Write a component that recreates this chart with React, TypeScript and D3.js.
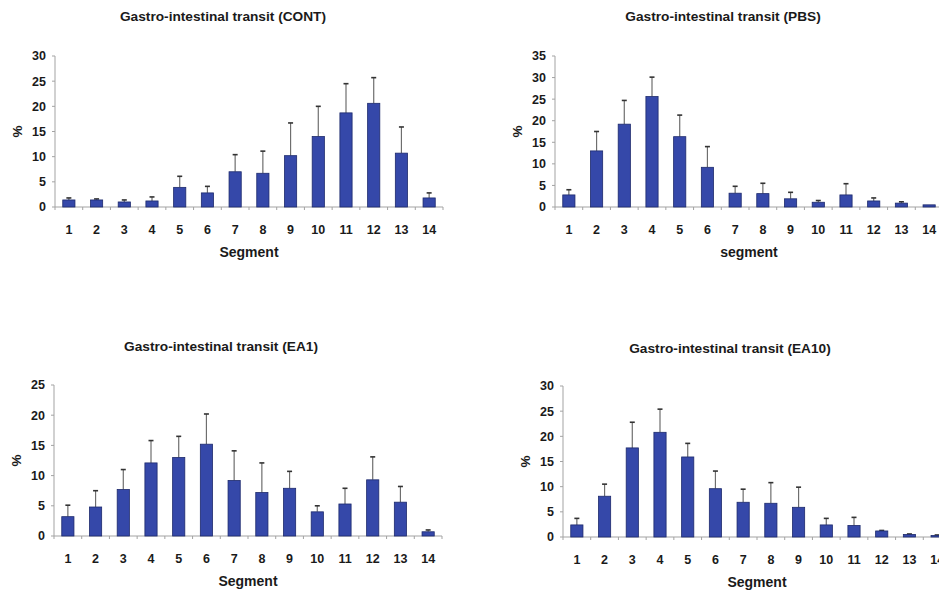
import React from "react";
import * as d3 from "d3";

const segments = ["1","2","3","4","5","6","7","8","9","10","11","12","13","14"];

const contMean = [1.4, 1.4, 1.0, 1.2, 3.9, 2.8, 7.0, 6.7, 10.2, 14.0, 18.7, 20.6, 10.7, 1.8];
const contErr  = [0.4, 0.2, 0.4, 0.8, 2.2, 1.3, 3.4, 4.4, 6.5, 6.0, 5.8, 5.1, 5.2, 1.0];

const pbsMean = [2.8, 13.0, 19.2, 25.6, 16.3, 9.2, 3.2, 3.1, 1.9, 1.1, 2.8, 1.4, 0.9, 0.5];
const pbsErr  = [1.2, 4.5, 5.5, 4.5, 5.0, 4.8, 1.6, 2.4, 1.5, 0.4, 2.6, 0.7, 0.3, 0.0];

const ea1Mean = [3.2, 4.8, 7.7, 12.1, 13.0, 15.2, 9.2, 7.2, 7.9, 4.0, 5.3, 9.3, 5.6, 0.7];
const ea1Err  = [1.9, 2.7, 3.3, 3.7, 3.5, 5.0, 4.9, 4.9, 2.8, 1.0, 2.6, 3.8, 2.6, 0.3];

const ea10Mean = [2.4, 8.1, 17.7, 20.8, 15.9, 9.6, 6.9, 6.7, 5.9, 2.4, 2.3, 1.2, 0.5, 0.3];
const ea10Err  = [1.3, 2.4, 5.1, 4.6, 2.7, 3.5, 2.6, 4.1, 4.0, 1.3, 1.6, 0.1, 0.1, 0.1];

const contTicks = [0, 5, 10, 15, 20, 25, 30];
const pbsTicks = [0, 5, 10, 15, 20, 25, 30, 35];
const ea1Ticks = [0, 5, 10, 15, 20, 25];
const ea10Ticks = [0, 5, 10, 15, 20, 25, 30];

const FONT = "'Liberation Sans', Arial, sans-serif";
const AXIS = "#a3a3a3";
const TEXT = "#1a1a1a";
const BAR = "#3548a9";
const BAR_STROKE = "#1d2a6c";

type PanelProps = {
  title: string;
  xLabel: string;
  mean: number[];
  err: number[];
  ticks: number[];
  x0: number;
  x1: number;
  yBase: number;
  yTop: number;
  titleX: number;
  titleY: number;
};

function Panel(p: PanelProps) {
  const maxV = p.ticks[p.ticks.length - 1];
  const x = d3.scaleBand<string>().domain(segments).range([p.x0, p.x1]).paddingInner(0.56).paddingOuter(0.28);
  const y = d3.scaleLinear().domain([0, maxV]).range([p.yBase, p.yTop]);
  const step = x.step();
  const bounds = d3.range(segments.length + 1).map((i) => p.x0 + i * step);
  const midX = (p.x0 + p.x1) / 2;
  const midY = (p.yBase + p.yTop) / 2;
  return (
    <g>
      <text x={p.titleX} y={p.titleY} textAnchor="middle" fontFamily={FONT} fontWeight="bold" fontSize={13.7} fill={TEXT}>{p.title}</text>
      <line x1={p.x0} x2={p.x0} y1={p.yBase} y2={p.yTop} stroke={AXIS} strokeWidth={1} />
      {p.ticks.map((t) => (
        <g key={"yt" + t}>
          <line x1={p.x0 - 3} x2={p.x0} y1={y(t)} y2={y(t)} stroke={AXIS} strokeWidth={1} />
          <text x={p.x0 - 9} y={y(t)} dy="0.35em" textAnchor="end" fontFamily={FONT} fontWeight="bold" fontSize={12.5} fill={TEXT}>{t}</text>
        </g>
      ))}
      <text transform={`translate(${p.x0 - 38},${midY}) rotate(-90)`} textAnchor="middle" dy="0.35em" fontFamily={FONT} fontWeight="bold" fontSize={13.5} fill={TEXT}>%</text>
      <line x1={p.x0} x2={p.x1} y1={p.yBase} y2={p.yBase} stroke={AXIS} strokeWidth={1} />
      {bounds.map((b, i) => (
        <line key={"xt" + i} x1={b} x2={b} y1={p.yBase} y2={p.yBase + 3} stroke={AXIS} strokeWidth={1} />
      ))}
      {segments.map((s) => (
        <text key={"xl" + s} x={(x(s) as number) + x.bandwidth() / 2} y={p.yBase + 27} textAnchor="middle" fontFamily={FONT} fontWeight="bold" fontSize={12.5} fill={TEXT}>{s}</text>
      ))}
      <text x={midX} y={p.yBase + 50} textAnchor="middle" fontFamily={FONT} fontWeight="bold" fontSize={14} fill={TEXT}>{p.xLabel}</text>
      {segments.map((s, i) => {
        const bx = x(s) as number;
        const bw = x.bandwidth();
        const top = y(p.mean[i]);
        const cx = bx + bw / 2;
        const et = y(p.mean[i] + p.err[i]);
        return (
          <g key={"b" + s}>
            {p.err[i] > 0 && (
              <>
                <line x1={cx} x2={cx} y1={top} y2={et} stroke="#6e6e6e" strokeWidth={1.2} />
                <line x1={cx - 2.5} x2={cx + 2.5} y1={et} y2={et} stroke="#333" strokeWidth={1.6} />
              </>
            )}
            <rect x={bx} y={top} width={bw} height={p.yBase - top} fill={BAR} stroke={BAR_STROKE} strokeWidth={0.8} />
          </g>
        );
      })}
    </g>
  );
}

export default function App() {
  return (
    <svg width={939} height={598} style={{ display: "block", position: "absolute", left: 0, top: 0, background: "#fff" }}>
      <rect width={939} height={598} fill="#fff" />
      <Panel title="Gastro-intestinal transit (CONT)" xLabel="Segment" mean={contMean} err={contErr} ticks={contTicks}
        x0={55} x1={443} yBase={207} yTop={56} titleX={223} titleY={21} />
      <Panel title="Gastro-intestinal transit (PBS)" xLabel="segment" mean={pbsMean} err={pbsErr} ticks={pbsTicks}
        x0={555} x1={943} yBase={207} yTop={56} titleX={723} titleY={21} />
      <Panel title="Gastro-intestinal transit (EA1)" xLabel="Segment" mean={ea1Mean} err={ea1Err} ticks={ea1Ticks}
        x0={54} x1={442} yBase={536} yTop={385} titleX={221} titleY={351} />
      <Panel title="Gastro-intestinal transit (EA10)" xLabel="Segment" mean={ea10Mean} err={ea10Err} ticks={ea10Ticks}
        x0={563} x1={951} yBase={537} yTop={386} titleX={730} titleY={353} />
    </svg>
  );
}
